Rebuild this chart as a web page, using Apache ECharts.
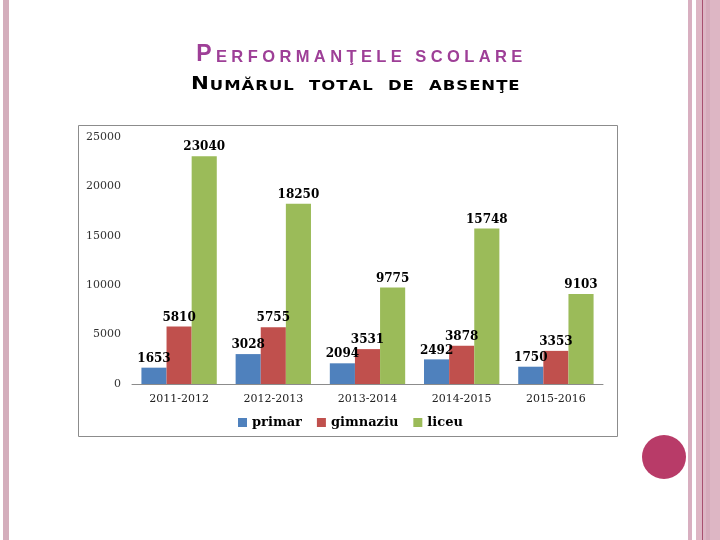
<!DOCTYPE html>
<html>
<head>
<meta charset="utf-8">
<script src="https://cdn.jsdelivr.net/npm/echarts@6/dist/echarts.min.js"></script>
<style>html,body{margin:0;padding:0;background:#fff;}#c{width:720px;height:540px;}</style>
</head>
<body>
<div id="c"></div>
<script>
const TITLE1 = 'PERFORMANŢELE SCOLARE';
const TITLE2 = 'NUMĂRUL TOTAL DE ABSENŢE';
const categories = ['2011-2012', '2012-2013', '2013-2014', '2014-2015', '2015-2016'];
const seriesNames = ['primar', 'gimnaziu', 'liceu'];
const primar = [1653, 3028, 2094, 2492, 1750];
const gimnaziu = [5810, 5755, 3531, 3878, 3353];
const liceu = [23040, 18250, 9775, 15748, 9103];
const yTicks = { min: 0, max: 25000, interval: 5000 };
const colors = ['#4F81BD', '#C0504D', '#9BBB59'];

function smallCaps(str) {
  return str.split('').map((c, i) => '{' + (i === 0 ? 'a' : (c === ' ' ? 's' : 'b')) + '|' + c + '}').join('');
}

const chart = echarts.init(document.getElementById('c'));
const serif = 'DejaVu Serif';
const labelStyle = {
  show: true, position: 'top', distance: 3,
  fontFamily: serif, fontWeight: 'bold', fontSize: 12, color: '#000'
};
const t1 = { fontFamily: 'Liberation Sans', color: '#9E3F97', verticalAlign: 'bottom' };
const t2 = { fontFamily: 'DejaVu Sans', fontWeight: 'bold', color: '#000', verticalAlign: 'bottom' };

chart.setOption({
  backgroundColor: '#fff',
  animation: false,
  title: [
    {
      text: smallCaps(TITLE1), left: 194, top: 43, padding: 0,
      textStyle: {
        rich: {
          a: Object.assign({ fontSize: 23, lineHeight: 23, padding: [0, 2.2, 0, 2.2] }, t1),
          b: Object.assign({ fontSize: 16.5, lineHeight: 16.5, padding: [0, 2.2, 0, 2.2] }, t1),
          s: Object.assign({ fontSize: 16.5, lineHeight: 16.5, padding: [0, 2.2, 0, 2.2] }, t1)
        }
      }
    }
  ],
  graphic: [
    {
      type: 'text', x: 191, y: 93, scaleX: 1.22,
      style: {
        text: smallCaps(TITLE2), x: 0, y: 0, verticalAlign: 'bottom',
        rich: {
          a: Object.assign({ fontSize: 17.5, lineHeight: 17.5, padding: [0, 0.8, 0, 0] }, t2),
          b: Object.assign({ fontSize: 13.5, lineHeight: 13.5, padding: [0, 0.8, 0, 0] }, t2),
          s: Object.assign({ fontSize: 13.5, lineHeight: 13.5, padding: [0, 3.5, 0, 3.5] }, t2)
        }
      }
    },
    { type: 'rect', shape: { x: 78.5, y: 125.5, width: 539, height: 311 }, style: { fill: 'none', stroke: '#8C8C8C', lineWidth: 1 }, z: -1 },
    { type: 'rect', shape: { x: 3, y: 0, width: 6, height: 540 }, style: { fill: '#D4AEBC' } },
    { type: 'rect', shape: { x: 688, y: 0, width: 4, height: 540 }, style: { fill: '#D8AFC0' } },
    { type: 'rect', shape: { x: 696, y: 0, width: 24, height: 540 }, style: { fill: '#DDB6C4' } },
    { type: 'rect', shape: { x: 706, y: 0, width: 4, height: 540 }, style: { fill: '#D6ABBB' } },
    { type: 'rect', shape: { x: 702, y: 0, width: 1, height: 540 }, style: { fill: '#A8506F' } },
    { type: 'circle', shape: { cx: 664, cy: 457, r: 22 }, style: { fill: '#B83B68' } }
  ],
  legend: {
    data: seriesNames, left: 233, top: 411,
    icon: 'rect', itemWidth: 9, itemHeight: 9, itemGap: 15,
    textStyle: { fontFamily: serif, fontWeight: 'bold', fontSize: 13, color: '#000' }
  },
  grid: { left: 132, right: 117, top: 137, bottom: 156, containLabel: false },
  xAxis: {
    type: 'category', data: categories,
    axisLine: { lineStyle: { color: '#8C8C8C' } },
    axisTick: { show: false },
    axisLabel: { fontFamily: serif, fontSize: 11, color: '#222', margin: 10 }
  },
  yAxis: {
    type: 'value', min: yTicks.min, max: yTicks.max, interval: yTicks.interval,
    axisLine: { show: false }, axisTick: { show: false }, splitLine: { show: false },
    axisLabel: { fontFamily: serif, fontSize: 11, color: '#333', margin: 11, formatter: v => String(v) }
  },
  series: [
    { name: seriesNames[0], type: 'bar', data: primar, itemStyle: { color: colors[0] }, barGap: '0%', barCategoryGap: '20%', label: labelStyle },
    { name: seriesNames[1], type: 'bar', data: gimnaziu, itemStyle: { color: colors[1] }, barGap: '0%', barCategoryGap: '20%', label: labelStyle },
    { name: seriesNames[2], type: 'bar', data: liceu, itemStyle: { color: colors[2] }, barGap: '0%', barCategoryGap: '20%', label: labelStyle }
  ]
});
</script>
</body>
</html>
